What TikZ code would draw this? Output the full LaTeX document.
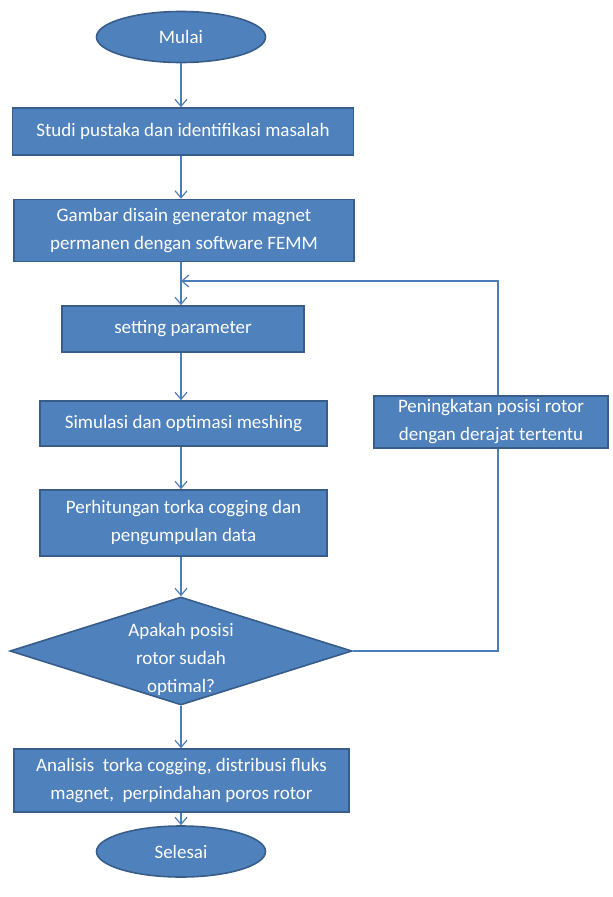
\documentclass[tikz,border=0pt]{standalone}
\usepackage{fontspec}
\setmainfont{Carlito}
\usetikzlibrary{shapes.geometric,arrows.meta}
\definecolor{fillb}{HTML}{4F81BD}
\definecolor{edgeb}{HTML}{385D8A}
\definecolor{lineb}{HTML}{4A7EBB}
\tikzset{
  txt/.style={text=white,font=\fontsize{19}{28}\selectfont,align=center,inner sep=0pt},
  blk/.style={txt,draw=edgeb,line width=1.6pt,fill=fillb},
  ell/.style={blk,ellipse},
  dia/.style={blk,diamond},
  conn/.style={draw=lineb,line width=1.2pt,-{Straight Barb[length=7pt,width=12pt]}},
  plain/.style={draw=lineb,line width=1.2pt}
}
\begin{document}
\begin{tikzpicture}[x=1pt,y=-1pt]
\useasboundingbox (0,0) rectangle (613,897);
\node[ell,minimum width=169pt,minimum height=51pt] (mulai) at (181,37) {Mulai};
\node[blk,minimum width=341pt,minimum height=47pt] (studi) at (183,131.5) {Studi pustaka dan identifikasi masalah};
\node[blk,minimum width=340pt,minimum height=62pt] (gambar) at (184,230.5) {Gambar disain generator magnet\\permanen dengan software FEMM};
\node[blk,minimum width=242pt,minimum height=46pt] (setting) at (183,329) {setting parameter};
\node[blk,minimum width=287pt,minimum height=45pt] (simulasi) at (183.5,423.5) {Simulasi dan optimasi meshing};
\node[blk,minimum width=287pt,minimum height=66pt] (hitung) at (183.5,523) {Perhitungan torka cogging dan\\pengumpulan data};
\node[dia,minimum width=342pt,minimum height=108pt,aspect=3.17,
  label={[txt,yshift=-8pt]center:{Apakah posisi\\rotor sudah\\optimal?}}] (cek) at (181,651) {};
\node[blk,minimum width=335pt,minimum height=63pt] (analisis) at (181.5,780.5) {Analisis~ torka cogging, distribusi fluks\\magnet,~ perpindahan poros rotor};
\node[ell,minimum width=169pt,minimum height=51pt] (selesai) at (181,851.5) {Selesai};
\node[blk,minimum width=234pt,minimum height=52pt] (naik) at (491,422) {Peningkatan posisi rotor\\dengan derajat tertentu};
\coordinate (c1) at (498,651);
\coordinate (c2) at (498,281);
\coordinate (c3) at (181,281);
\draw[conn] (mulai.south) -- (mulai.south |- studi.north);
\draw[conn] (mulai.south |- studi.south) -- (mulai.south |- gambar.north);
\draw[conn] (mulai.south |- gambar.south) -- (mulai.south |- setting.north);
\draw[conn] (mulai.south |- setting.south) -- (mulai.south |- simulasi.north);
\draw[conn] (mulai.south |- simulasi.south) -- (mulai.south |- hitung.north);
\draw[conn] (mulai.south |- hitung.south) -- (cek.north);
\draw[conn] (cek.south) -- (cek.south |- analisis.north);
\draw[conn] (cek.south |- analisis.south) -- (selesai.north);
\draw[plain] (cek.east) -- (c1) -- (c1 |- naik.south);
\draw[conn] (c1 |- naik.north) -- (c2) -- (c3);
\end{tikzpicture}
\end{document}
